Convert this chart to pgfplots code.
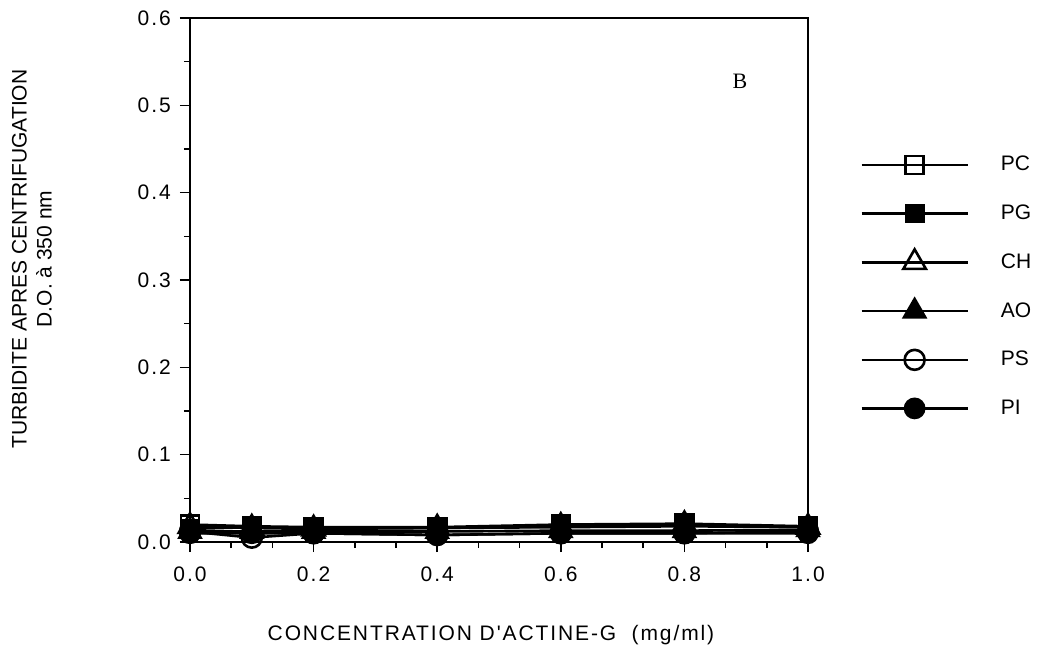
\documentclass[border=0pt]{standalone}
\usepackage{fontspec}
\setmainfont{Liberation Sans}
\newfontfamily\serifB{Liberation Serif}
\newfontfamily\tickfont[LetterSpace=10]{Liberation Sans}
\newfontfamily\xlabfont[LetterSpace=9]{Liberation Sans}
\usepackage{pgfplots}
\pgfplotsset{compat=1.18}
\begin{document}
\begin{tikzpicture}
\begin{axis}[
  scale only axis,
  width=309pt, height=262pt,
  xmin=0, xmax=1, ymin=0, ymax=0.6,
  xtick={0,0.2,...,1.0}, ytick={0,0.1,...,0.6},
  minor x tick num=2, minor y tick num=1,
  tick align=outside, tick pos=left,
  major tick length=5pt, minor tick length=3pt,
  every tick/.style={black, line width=0.8pt},
  axis line style={line width=0.9pt},
  /pgf/number format/fixed, /pgf/number format/fixed zerofill, /pgf/number format/precision=1,
  /pgf/number format/assume math mode=true,
  ticklabel style={font=\tickfont\fontsize{10.5}{12}\selectfont},
  xticklabel style={yshift=-4pt},
  yticklabel style={xshift=-1pt},
  scaled ticks=false,
  xlabel={CONCENTRATION D'ACTINE-G\ \ (mg/ml)},
  ylabel={TURBIDITE APRES CENTRIFUGATION\\D.O. à 350 nm},
  xlabel style={font=\xlabfont\fontsize{10.5}{12.5}\selectfont, at={(axis description cs:0.487,-0.177)}, anchor=center},
  ylabel style={font=\fontsize{10.5}{12.5}\selectfont, at={(axis description cs:-0.256,0.54)}, anchor=center, align=center},
  legend style={at={(axis description cs:1.084,0.745)}, anchor=north west, draw=none,
    font=\fontsize{10.5}{12}\selectfont, row sep=11.5pt, inner sep=0pt},
  legend cell align=left,
  legend image code/.code={\draw[mark repeat=2,mark phase=2] plot coordinates {(0pt,0pt) (26.5pt,0pt) (53pt,0pt)};},
  every axis plot/.append style={black, line width=1.3pt, mark size=4.5pt, mark options={solid, line width=0.9pt}},
  clip=false,
]
\addplot[mark=square, mark options={fill=white}] coordinates {(0,0.020) (0.1,0.018) (0.2,0.017) (0.4,0.017) (0.6,0.020) (0.8,0.021) (1.0,0.018)};
\addlegendentry{\hspace{14pt}PC}
\addplot[mark=square*] coordinates {(0,0.015) (0.1,0.017) (0.2,0.016) (0.4,0.016) (0.6,0.017) (0.8,0.018) (1.0,0.017)};
\addlegendentry{\hspace{14pt}PG}
\addplot[mark=triangle, mark options={fill=white}, mark size=6.5pt] coordinates {(0,0.018) (0.1,0.016) (0.2,0.015) (0.4,0.016) (0.6,0.018) (0.8,0.020) (1.0,0.017)};
\addlegendentry{\hspace{14pt}CH}
\addplot[mark=triangle*, mark size=6.5pt] coordinates {(0,0.012) (0.1,0.012) (0.2,0.012) (0.4,0.012) (0.6,0.013) (0.8,0.013) (1.0,0.014)};
\addlegendentry{\hspace{14pt}AO}
\addplot[mark=o, mark options={fill=white}, mark size=5pt] coordinates {(0,0.012) (0.1,0.005) (0.2,0.010) (0.4,0.008) (0.6,0.010) (0.8,0.010) (1.0,0.012)};
\addlegendentry{\hspace{14pt}PS}
\addplot[mark=*, mark size=5pt] coordinates {(0,0.010) (0.1,0.010) (0.2,0.010) (0.4,0.008) (0.6,0.010) (0.8,0.010) (1.0,0.010)};
\addlegendentry{\hspace{14pt}PI}
\node[font=\serifB\fontsize{11}{12}\selectfont] at (axis cs:0.89,0.527) {B};
\end{axis}
\pgfresetboundingbox
\path (-95pt,-55.5pt) rectangle (426pt,271pt);
\end{tikzpicture}
\end{document}
